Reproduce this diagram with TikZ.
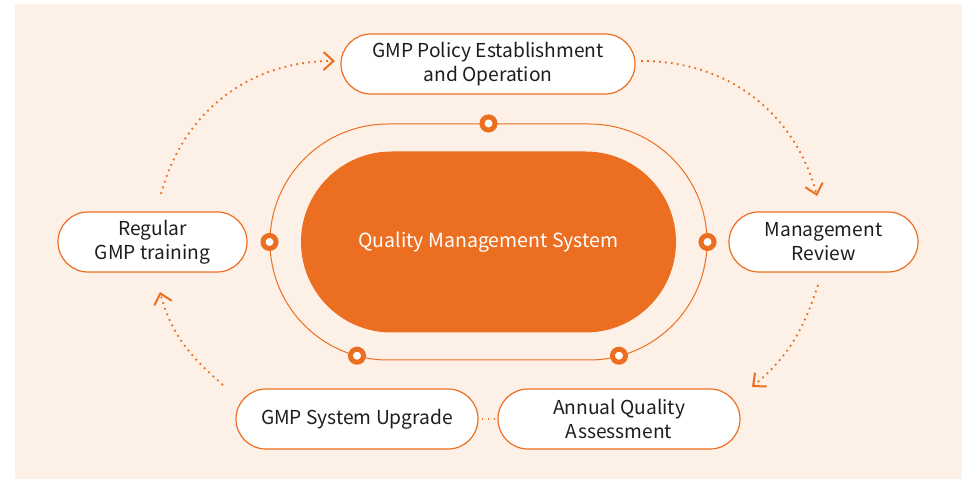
\documentclass[tikz,border=0pt]{standalone}
\usepackage{fontspec}
\setmainfont{Noto Sans CJK KR}
\usetikzlibrary{arrows.meta}
\definecolor{qorange}{HTML}{EC6E21}
\definecolor{qpeach}{HTML}{FDF1E7}
\definecolor{qtext}{HTML}{1E1E1E}

\begin{document}
\begin{tikzpicture}[x=1pt,y=1pt,
  stage/.style={draw=qorange, line width=1.2pt, fill=white, rounded corners=30pt,
    minimum height=60pt, inner sep=0pt, align=center, text=qtext,
    font=\fontsize{19.2}{24}\selectfont},
  cyc/.style={draw=qorange, line width=1.8pt, dash pattern=on 1.8pt off 4.2pt,
    -{Straight Barb[length=10pt,width=18pt,line width=2pt]}},
  ringdot/.style={draw=qorange, line width=5pt, fill=white}]

\useasboundingbox (0,0) rectangle (962,479);
\fill[qpeach] (15,0) rectangle (962,475);

\node[stage, minimum width=294pt] (policy) at (488,415) {GMP Policy Establishment\\and Operation};
\node[stage, minimum width=189pt] (review) at (823.5,237) {Management\\Review};
\node[stage, minimum width=242pt] (assess) at (619,60) {Annual Quality\\Assessment};
\node[stage, minimum width=242pt] (upgrade) at (357,60) {GMP System Upgrade};
\node[stage, minimum width=189pt] (training) at (152.5,237) {Regular\\GMP training};

\node[draw=qorange, line width=1pt, rounded corners=118pt, minimum width=437pt,
  minimum height=236pt, inner sep=0pt] (ring) at (488.5,237) {};
\node[fill=qorange, rounded corners=90.5pt, minimum width=375pt, minimum height=181pt,
  inner sep=0pt, text=white, font=\fontsize{19.5}{24}\selectfont] (qms) at (488.5,237) {Quality Management System};

\coordinate (m4) at (357,123.3);
\coordinate (m5) at (619,123.3);
\foreach \p in {ring.north, ring.west, ring.east, m4, m5}
    \draw[ringdot] (\p) circle (6.5pt);

\coordinate (a1) at (161,285);
\coordinate (b1) at (335,418);
\coordinate (a2) at (641,418);
\coordinate (b2) at (817,283);
\coordinate (a3) at (818,194);
\coordinate (b3) at (752,92);
\coordinate (a4) at (223,94);
\coordinate (b4) at (160,187);

\draw[cyc] (a1) to[out=75,in=180] (b1);
\draw[cyc] (a2) to[out=0,in=105] (b2);
\draw[cyc] (a3) to[out=252,in=40] (b3);
\draw[cyc] (a4) to[out=139,in=-75] (b4);
\draw[cyc, -, shorten <=3pt, shorten >=2pt] (upgrade.east) -- (assess.west);

\end{tikzpicture}
\end{document}
